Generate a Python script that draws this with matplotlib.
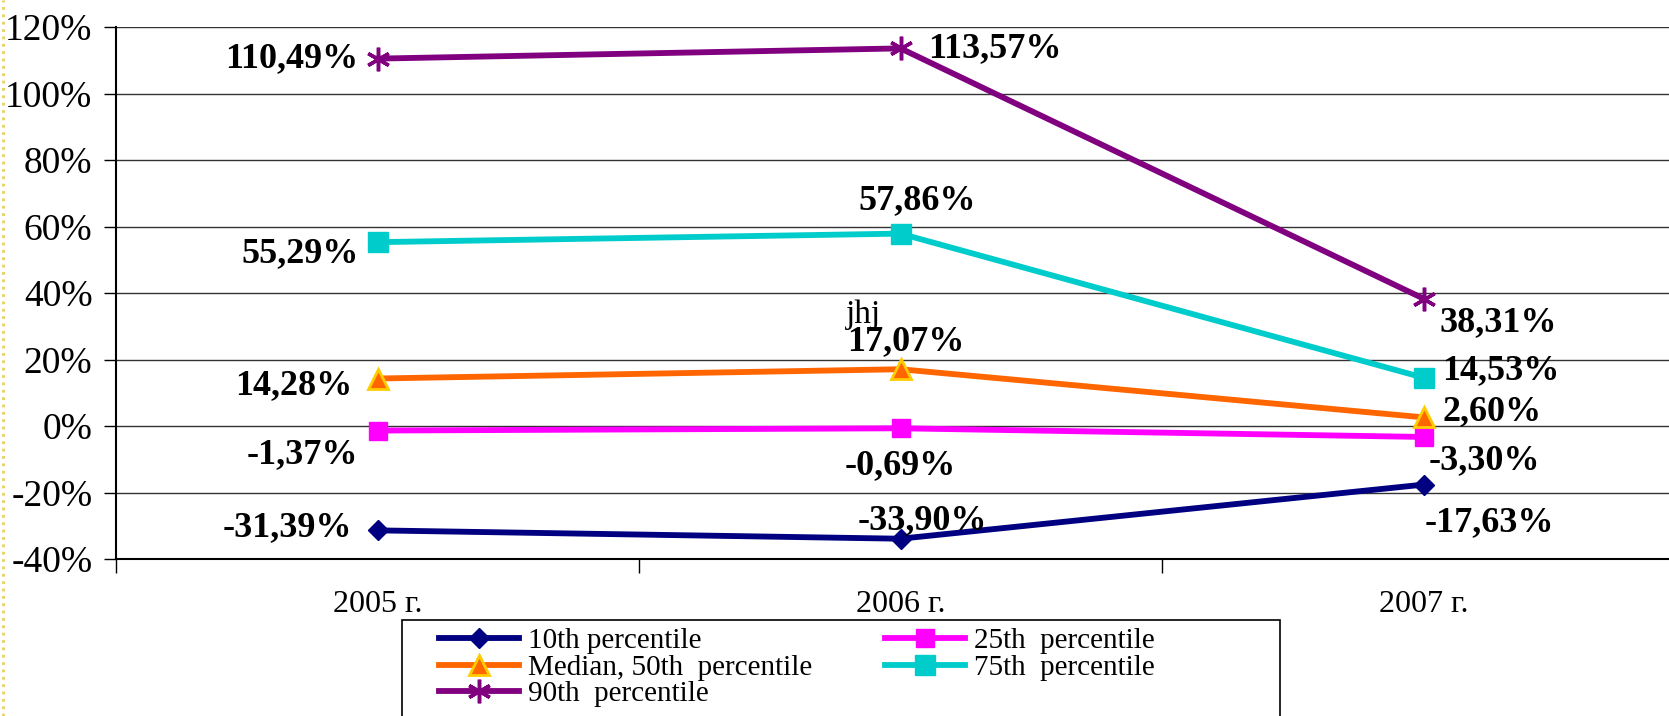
import matplotlib
matplotlib.use("Agg")
import matplotlib.pyplot as plt
from matplotlib.patches import Rectangle
from matplotlib.lines import Line2D

# -----------------------------------------------------------------------------
# Data (percent)
# -----------------------------------------------------------------------------
years = ["2005 г.", "2006 г.", "2007 г."]

p10 = [-31.39, -33.90, -17.63]
p25 = [-1.37, -0.69, -3.30]
p50 = [14.28, 17.07, 2.60]
p75 = [55.29, 57.86, 14.53]
p90 = [110.49, 113.57, 38.31]

series_names = ["10th percentile", "25th  percentile", "Median, 50th  percentile",
                "75th  percentile", "90th  percentile"]

y_ticks = [-40, -20, 0, 20, 40, 60, 80, 100, 120]

# -----------------------------------------------------------------------------
# Styles
# -----------------------------------------------------------------------------
plt.rcParams['font.family'] = ['Liberation Serif', 'DejaVu Serif']

styles = [
    dict(color='#000080', marker='D', markersize=10, mfc='#000080', mec='#000080'),
    dict(color='#FF00FF', marker='s', markersize=13, mfc='#FF00FF', mec='#FF00FF'),
    dict(color='#FF6600', marker='^', markersize=15, mfc='#FF6600', mec='#FFCC00', mew=2),
    dict(color='#00CCCC', marker='s', markersize=15, mfc='#00CCCC', mec='#00CCCC'),
    dict(color='#800080', marker=(6, 2, 0), markersize=17, mfc='#800080', mec='#800080', mew=2.5),
]

# label offsets in pixels (dx, dy, ha) per series, per year
label_pos = [
    [(-25, 3, 'right'), (22, 18, 'center'), (1, -38, 'left')],
    [(-19, -24, 'right'), (0, -37, 'center'), (5, -24, 'left')],
    [(-25, -7, 'right'), (5, 28, 'center'), (19, 6, 'left')],
    [(-19, -11, 'right'), (17, 33, 'center'), (19, 7, 'left')],
    [(-19, 0, 'right'), (28, 0, 'left'), (16, -24, 'left')],
]

# -----------------------------------------------------------------------------
# Figure
# -----------------------------------------------------------------------------
W, H = 1669, 716
fig = plt.figure(figsize=(W / 100, H / 100), dpi=100)
ax = fig.add_axes([116 / W, 1 - 559 / H, (1685 - 116) / W, (559 - 27) / H])

x = list(range(len(years)))
handles = []
for vals, st, name, pos in zip([p10, p25, p50, p75, p90], styles, series_names, label_pos):
    ln, = ax.plot(x, vals, lw=4.2, label=name, clip_on=False, zorder=3, **st)
    handles.append(ln)
    for xi, v, (dx, dy, ha) in zip(x, vals, pos):
        ax.annotate(f"{v:.2f}".replace('.', ',') + '%', (xi, v),
                    xytext=(dx, dy), textcoords='offset pixels',
                    ha=ha, va='center', fontsize=26, fontweight='bold',
                    annotation_clip=False, zorder=5)

# stray text above the median 2006 label
ax.annotate("jhj", (1, p50[1]), xytext=(-37, 54), textcoords='offset pixels',
            ha='center', va='center', fontsize=24, zorder=5)

ax.set_xlim(-0.5, 2.5)
ax.set_ylim(-40, 120)

ax.set_yticks(y_ticks)
ax.set_yticklabels([f"{t}%" for t in y_ticks])
ax.tick_params(axis='y', direction='out', length=9, width=1, pad=8, labelsize=27)

ax.set_xticks([-0.5, 0.5, 1.5, 2.5])
ax.set_xticklabels([])
ax.set_xticks(x, minor=True)
ax.set_xticklabels(years, minor=True)
ax.tick_params(axis='x', which='major', direction='out', length=10, width=1)
ax.tick_params(axis='x', which='minor', length=0, pad=22, labelsize=23)

ax.grid(axis='y', color='#333333', lw=1)
ax.set_axisbelow(True)
for s in ['top', 'right']:
    ax.spines[s].set_visible(False)
ax.spines['left'].set_linewidth(1.5)
ax.spines['bottom'].set_linewidth(1.5)

# legend box, cut off by the bottom edge
fig.patches.append(Rectangle((402 / W, -0.05), (1280 - 402) / W, 0.05 + 1 - 620 / H,
                             transform=fig.transFigure, fill=False, ec='black', lw=1.2))
# row-wise order: 10th, 25th / median, 75th / 90th
order = [0, 2, 4, 1, 3]
fig.legend([handles[i] for i in order], [series_names[i] for i in order],
           ncol=2, loc='upper left', bbox_to_anchor=(439 / W, 1 - 628 / H),
           frameon=False, fontsize=21, handlelength=2.75, handletextpad=0.3,
           columnspacing=2.5, labelspacing=0.0, borderpad=0, borderaxespad=0)

# yellow border at the left edge
fig.add_artist(Line2D([0.0015, 0.0015], [0, 1], transform=fig.transFigure,
                      color='#E8D060', lw=2, ls=':'))

fig.savefig("out.png", dpi=100)
